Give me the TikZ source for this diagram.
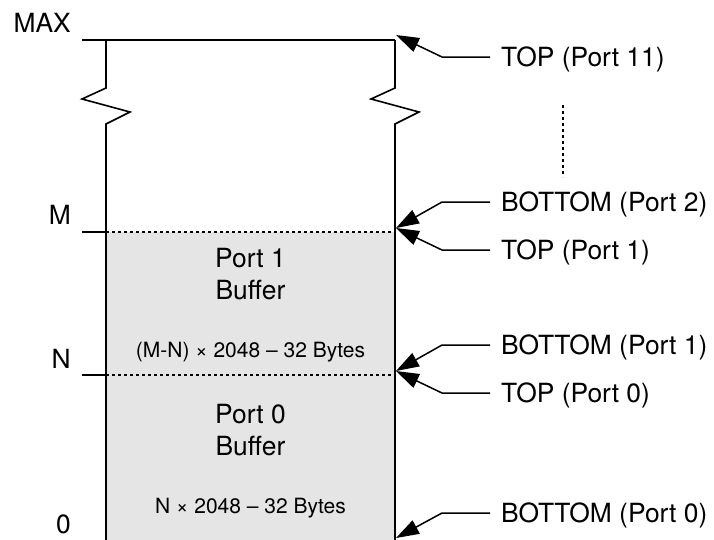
\documentclass[tikz,border=0pt]{standalone}
\usepackage{fontspec}
\setmainfont{TeX Gyre Heros}
\usetikzlibrary{arrows.meta}
\definecolor{bufgray}{RGB}{229,229,229}
\begin{document}
\begin{tikzpicture}[x=1pt,y=-1pt,
  wall/.style={line width=1.6pt, line join=miter},
  divider/.style={line width=1.3pt, dash pattern=on 3pt off 3pt},
  ptr/.style={line width=1.5pt, -{Triangle[length=23pt,width=15pt]}},
  guide/.style={line width=1.3pt, dash pattern=on 3pt off 3pt},
  big/.style={font=\fontsize{26.4}{32}\selectfont, inner sep=0pt},
  small/.style={font=\fontsize{21}{25}\selectfont, inner sep=0pt},
  lbl/.style={big, anchor=base west},
  addr/.style={big, anchor=base east},
]
\useasboundingbox (0,0) rectangle (714,539);

% buffer area (port 1 and port 0)
\fill[bufgray] (106,232) rectangle (395,545);

% memory column with break marks
\draw[wall] (82,40) -- (395,40);
\draw[wall] (106,40) -- (106,88) -- (82,99) -- (130,112) -- (106,124) -- (106,545);
\draw[wall] (395,40) -- (395,88) -- (371,99) -- (419,112) -- (395,124) -- (395,545);

% address ticks and dividers
\draw[wall] (82,232) -- (106,232);
\draw[divider] (106,232) -- (395,232);
\draw[wall] (82,375) -- (106,375);
\draw[divider] (106,375) -- (395,375);

% address labels
\node[addr] (amax) at (71,32) {MAX};
\node[addr] (am) at (71,224) {M};
\node[addr] (an) at (71,368) {N};
\node[addr] (a0) at (71,533) {0};

% buffer texts
\node[big, anchor=base] (p1a) at (250.5,267) {Port 1};
\node[big, anchor=base] (p1b) at (250.5,299) {Buffer};
\node[small, anchor=base] (p1s) at (250.5,357) {(M-N) × 2048 – 32 Bytes};
\node[big, anchor=base] (p0a) at (250.5,423) {Port 0};
\node[big, anchor=base] (p0b) at (250.5,455) {Buffer};
\node[small, anchor=base] (p0s) at (250.5,513) {N × 2048 – 32 Bytes};

% pointer labels
\node[lbl] (t11) at (501,66) {TOP (Port 11)};
\node[lbl] (b2) at (501,211) {BOTTOM (Port 2)};
\node[lbl] (t1) at (501,259) {TOP (Port 1)};
\node[lbl] (b1) at (501,354) {BOTTOM (Port 1)};
\node[lbl] (t0) at (501,402) {TOP (Port 0)};
\node[lbl] (b0) at (501,522) {BOTTOM (Port 0)};

% pointer paths: start, elbow, tip
\coordinate (s11) at (490,57);  \coordinate (e11) at (442,57);  \coordinate (k11) at (396,35);
\coordinate (sb2) at (490,202); \coordinate (eb2) at (442,202); \coordinate (kb2) at (396,228);
\coordinate (st1) at (490,250); \coordinate (et1) at (442,250); \coordinate (kt1) at (396,228);
\coordinate (sb1) at (490,345); \coordinate (eb1) at (442,345); \coordinate (kb1) at (396,371);
\coordinate (st0) at (490,393); \coordinate (et0) at (442,393); \coordinate (kt0) at (396,371);
\coordinate (sb0) at (490,513); \coordinate (eb0) at (442,513); \coordinate (kb0) at (396,538);

\draw[ptr] (s11) -- (e11) -- (k11);
\draw[ptr] (sb2) -- (eb2) -- (kb2);
\draw[ptr] (st1) -- (et1) -- (kt1);
\draw[ptr] (sb1) -- (eb1) -- (kb1);
\draw[ptr] (st0) -- (et0) -- (kt0);
\draw[ptr] (sb0) -- (eb0) -- (kb0);

% ports 2 .. 10 omitted
\coordinate (g1) at (563,105);
\coordinate (g2) at (563,177);
\draw[guide] (g1) -- (g2);
\end{tikzpicture}
\end{document}
